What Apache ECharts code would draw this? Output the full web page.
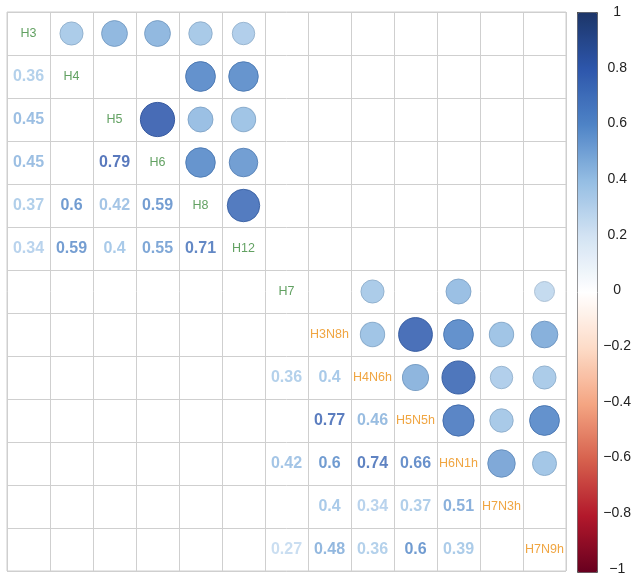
<!DOCTYPE html>
<html>
<head>
    <meta charset="utf-8">
    <title>Correlation</title>
    <script src="https://cdn.jsdelivr.net/npm/echarts@6/dist/echarts.min.js"></script>
    <style>
        body { margin: 0; background: #fff; }
    </style>
</head>
<body>
    <div id="main" style="width: 634px;height:576px;"></div>
    <script type="text/javascript">
        // variable names, in plot order
        var names = ['H3', 'H4', 'H5', 'H6', 'H8', 'H12', 'H7', 'H3N8h', 'H4N6h', 'H5N5h', 'H6N1h', 'H7N3h', 'H7N9h'];
        // first 7 labels green, the rest orange
        var greenCount = 7;
        // lower triangle, [row, col, r] (blank cells are left out)
        var corrPairs = [
            [1, 0, 0.36],
            [2, 0, 0.45],
            [3, 0, 0.45], [3, 2, 0.79],
            [4, 0, 0.37], [4, 1, 0.6], [4, 2, 0.42], [4, 3, 0.59],
            [5, 0, 0.34], [5, 1, 0.59], [5, 2, 0.4], [5, 3, 0.55], [5, 4, 0.71],
            [8, 6, 0.36], [8, 7, 0.4],
            [9, 7, 0.77], [9, 8, 0.46],
            [10, 6, 0.42], [10, 7, 0.6], [10, 8, 0.74], [10, 9, 0.66],
            [11, 7, 0.4], [11, 8, 0.34], [11, 9, 0.37], [11, 10, 0.51],
            [12, 6, 0.27], [12, 7, 0.48], [12, 8, 0.36], [12, 9, 0.6], [12, 10, 0.39]
        ];
        var legendTicks = [-1, -0.8, -0.6, -0.4, -0.2, 0, 0.2, 0.4, 0.6, 0.8, 1];

        // red-white-blue ramp, -1 .. 1
        var palette = ['#67001F', '#B2182B', '#D6604D', '#F4A582', '#FDDBC7', '#FFFFFF',
                       '#D3E3F3', '#94BDE3', '#4E83C6', '#2D56AB', '#1C3568'];

        function hex2rgb(h) {
            return [parseInt(h.substr(1, 2), 16), parseInt(h.substr(3, 2), 16), parseInt(h.substr(5, 2), 16)];
        }
        function colorOf(v, k) {
            var t = (v + 1) / 2 * (palette.length - 1);
            var i = Math.min(Math.floor(t), palette.length - 2);
            var f = t - i;
            var a = hex2rgb(palette[i]), b = hex2rgb(palette[i + 1]);
            k = k || 1;
            var c = a.map(function (x, j) { return Math.round((x + (b[j] - x) * f) * k); });
            return 'rgb(' + c.join(',') + ')';
        }

        var circleData = [], numberData = [], diagData = [];
        corrPairs.forEach(function (p) {
            // upper triangle: circle, x = row var, y = col var
            circleData.push({
                value: [p[0], p[1], p[2]],
                itemStyle: { borderColor: colorOf(p[2], 0.88) }
            });
            // lower triangle: number
            numberData.push({
                value: [p[1], p[0], p[2]],
                label: { color: colorOf(p[2]) }
            });
        });
        names.forEach(function (n, i) {
            diagData.push({
                value: [i, i, n],
                label: { color: i < greenCount ? '#3b8a3b' : '#ec8f12' }
            });
        });

        var myChart = echarts.init(document.getElementById('main'));
        var option = {
            animation: false,
            grid: [
                { left: 7, top: 12, width: 559, height: 559, show: true, borderColor: '#cfcfcf', borderWidth: 1 },
                { left: 577, top: 12, width: 20, height: 560 }
            ],
            xAxis: [
                {
                    type: 'category', data: names, gridIndex: 0,
                    axisLabel: { show: false }, axisTick: { show: false }, axisLine: { show: false },
                    splitLine: { show: true, interval: 0, lineStyle: { color: '#cfcfcf', width: 1 } }
                },
                { type: 'value', gridIndex: 1, show: false }
            ],
            yAxis: [
                {
                    type: 'category', data: names, inverse: true, gridIndex: 0,
                    axisLabel: { show: false }, axisTick: { show: false }, axisLine: { show: false },
                    splitLine: { show: true, interval: 0, lineStyle: { color: '#cfcfcf', width: 1 } }
                },
                {
                    type: 'value', gridIndex: 1, position: 'right', min: -1, max: 1, interval: 0.2,
                    axisLine: { show: false },
                    axisTick: { show: true, length: 4, lineStyle: { color: '#444' } },
                    splitLine: { show: false },
                    axisLabel: {
                        margin: 26, align: 'center', fontSize: 14, color: '#222',
                        fontFamily: 'Liberation Sans',
                        formatter: function (v) {
                            var s = String(Math.round(v * 10) / 10);
                            return s.replace('-', '\u2212');
                        }
                    }
                }
            ],
            visualMap: {
                type: 'continuous',
                min: -1, max: 1,
                dimension: 2,
                seriesIndex: 0,
                calculable: false,
                hoverLink: false,
                orient: 'vertical',
                left: 577, top: 12,
                itemWidth: 20, itemHeight: 560,
                padding: 0,
                text: null,
                borderColor: '#555', borderWidth: 1,
                inRange: { color: palette }
            },
            series: [
                {
                    type: 'scatter',
                    data: circleData,
                    symbolSize: function (v) { return Math.sqrt(Math.abs(v[2])) * 38.5; },
                    itemStyle: { opacity: 0.88, borderWidth: 1 }
                },
                {
                    type: 'scatter',
                    data: numberData,
                    symbolSize: 1,
                    itemStyle: { color: 'rgba(0,0,0,0)' },
                    label: {
                        show: true, position: 'inside',
                        fontSize: 16, fontWeight: 'bold', fontFamily: 'Liberation Sans',
                        formatter: function (p) { return String(p.value[2]); }
                    }
                },
                {
                    type: 'scatter',
                    data: diagData,
                    symbolSize: 1,
                    itemStyle: { color: 'rgba(0,0,0,0)' },
                    label: {
                        show: true, position: 'inside',
                        fontSize: 12.5, fontFamily: 'Liberation Sans',
                        formatter: function (p) { return p.value[2]; }
                    }
                }
            ]
        };
        myChart.setOption(option);
    </script>
</body>
</html>
